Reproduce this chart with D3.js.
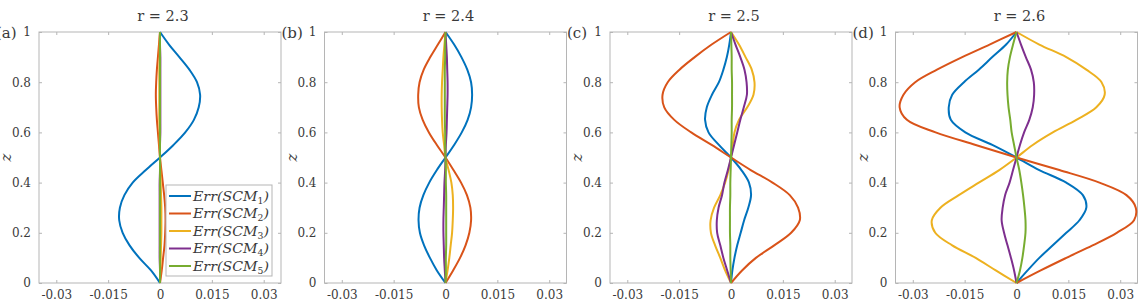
<!DOCTYPE html>
<html>
<head>
<meta charset="utf-8">
<script src="https://cdn.jsdelivr.net/npm/d3@7"></script>
<style>
  body { margin: 0; background: #fff; }
  text { font-family: "DejaVu Serif", "Liberation Serif", serif; }
</style>
</head>
<body>
<svg id="chart" width="1143" height="305"></svg>
<script>
// z positions (vertical axis) shared by every curve
const zValues = [0, 0.05, 0.1, 0.15, 0.2, 0.25, 0.3, 0.35, 0.4, 0.45, 0.5,
  0.55, 0.6, 0.65, 0.7, 0.75, 0.8, 0.85, 0.9, 0.95, 1];

const panelTitles = ["r = 2.3", "r = 2.4", "r = 2.5", "r = 2.6"];
const panelLabels = ["(a)", "(b)", "(c)", "(d)"];
const seriesNames = ["SCM1", "SCM2", "SCM3", "SCM4", "SCM5"];
const seriesColors = ["#0072BD", "#D95319", "#EDB120", "#7E2F8E", "#77AC30"];

const xTicks = [-0.03, -0.015, 0, 0.015, 0.03];
const xTickLabels = ["-0.03", "-0.015", "0", "0.015", "0.03"];
const yTicks = [0, 0.2, 0.4, 0.6, 0.8, 1];
const yTickLabels = ["0", "0.2", "0.4", "0.6", "0.8", "1"];

// r = 2.3
const r23_scm1 = [0, -0.0026, -0.006, -0.0088, -0.0108, -0.0118, -0.0116, -0.0103, -0.0079, -0.0041, 0,
  0.0039, 0.0073, 0.0098, 0.0112, 0.0116, 0.0107, 0.0085, 0.0056, 0.0026, 0];
const r23_scm2 = [0, 0.0005, 0.0009, 0.0013, 0.0015, 0.0016, 0.0015, 0.0012, 0.0008, 0.0004, 0,
  -0.0003, -0.0006, -0.0009, -0.0011, -0.0012, -0.0011, -0.0009, -0.0006, -0.0003, 0];
const r23_scm3 = [0, 0.0001, 0.0002, 0.0003, 0.0004, 0.0004, 0.0004, 0.0003, 0.0002, 0.0001, 0,
  -0.0001, -0.0001, -0.0002, -0.0002, -0.0002, -0.0002, -0.0002, -0.0001, -0.0001, 0];
const r23_scm4 = [0, 0, -0.0001, -0.0001, -0.0001, -0.0001, -0.0001, -0.0001, -0.0001, 0, 0,
  0, 0.0001, 0.0001, 0.0001, 0.0001, 0.0001, 0.0001, 0.0001, 0, 0];
const r23_scm5 = [0, 0, 0, 0, 0, 0, 0, 0, 0, 0, 0, 0, 0, 0, 0, 0, 0, 0, 0, 0, 0];

// r = 2.4
const r24_scm1 = [0, -0.0025, -0.0045, -0.0062, -0.0074, -0.0078, -0.0075, -0.0064, -0.0047, -0.0025, 0,
  0.0025, 0.0047, 0.0064, 0.0074, 0.0077, 0.0074, 0.0063, 0.0046, 0.0025, 0];
const r24_scm2 = [0, 0.0022, 0.0042, 0.0058, 0.0069, 0.0074, 0.0072, 0.0062, 0.0045, 0.0023, 0,
  -0.0025, -0.0048, -0.0066, -0.0077, -0.0079, -0.0075, -0.0063, -0.0044, -0.0022, 0];
const r24_scm3 = [0, 0.0006, 0.0011, 0.0015, 0.0019, 0.0021, 0.0022, 0.0021, 0.0017, 0.0009, 0,
  -0.0004, -0.0008, -0.001, -0.0011, -0.0011, -0.001, -0.0008, -0.0006, -0.0003, 0];
const r24_scm4 = [0, -0.0002, -0.0004, -0.0005, -0.0006, -0.0006, -0.0005, -0.0004, -0.0003, -0.0001, 0,
  0.0001, 0.0003, 0.0004, 0.0005, 0.0006, 0.0006, 0.0005, 0.0004, 0.0002, 0];
const r24_scm5 = [0, 0.0001, 0.0001, 0.0002, 0.0002, 0.0002, 0.0002, 0.0002, 0.0001, 0.0001, 0,
  -0.0001, -0.0001, -0.0002, -0.0002, -0.0002, -0.0002, -0.0002, -0.0001, -0.0001, 0];

// r = 2.5
const r25_scm1 = [0, 0.0004, 0.001, 0.0018, 0.0028, 0.0038, 0.005, 0.0058, 0.0052, 0.003, 0,
  -0.0035, -0.0065, -0.0075, -0.007, -0.0055, -0.0035, -0.0022, -0.0012, -0.0005, 0];
const r25_scm2 = [0, 0.0032, 0.0072, 0.0125, 0.0174, 0.0199, 0.0194, 0.017, 0.012, 0.0057, 0,
  -0.0056, -0.0115, -0.0164, -0.0193, -0.0198, -0.0183, -0.0149, -0.0105, -0.0056, 0];
const r25_scm3 = [0, -0.0017, -0.0031, -0.0046, -0.0058, -0.0059, -0.0049, -0.0031, -0.0017, -0.0007, 0,
  0.0005, 0.001, 0.0023, 0.0047, 0.0065, 0.0068, 0.006, 0.0042, 0.0023, 0];
const r25_scm4 = [0, -0.0011, -0.0022, -0.0031, -0.004, -0.0041, -0.0036, -0.0026, -0.0019, -0.0009, 0,
  0.0009, 0.0018, 0.0027, 0.0037, 0.0046, 0.0045, 0.0039, 0.0027, 0.0013, 0];
const r25_scm5 = [0, -0.0001, -0.0002, -0.0002, -0.0003, -0.0003, -0.0003, -0.0002, -0.0002, -0.0001, 0,
  0.0001, 0.0002, 0.0002, 0.0003, 0.0003, 0.0003, 0.0002, 0.0002, 0.0001, 0];

// r = 2.6
const r26_scm1 = [0, 0.0032, 0.0066, 0.0105, 0.0144, 0.0182, 0.0202, 0.0192, 0.0144, 0.0066, 0,
  -0.007, -0.0148, -0.019, -0.0196, -0.0186, -0.0152, -0.0109, -0.007, -0.003, 0];
const r26_scm2 = [0, 0.007, 0.0144, 0.022, 0.029, 0.034, 0.0345, 0.0318, 0.024, 0.0124, 0,
  -0.0118, -0.0234, -0.0317, -0.0338, -0.0327, -0.0293, -0.023, -0.0157, -0.0078, 0];
const r26_scm3 = [0, -0.006, -0.0118, -0.0186, -0.0235, -0.0245, -0.022, -0.0167, -0.0109, -0.005, 0,
  0.0047, 0.0105, 0.0173, 0.0231, 0.0255, 0.0246, 0.0202, 0.0144, 0.0066, 0];
const r26_scm4 = [0, -0.0007, -0.0016, -0.0026, -0.0036, -0.0043, -0.004, -0.0033, -0.002, -0.001, 0,
  0.001, 0.0022, 0.0037, 0.0047, 0.0051, 0.005, 0.0042, 0.0027, 0.0013, 0];
const r26_scm5 = [0, 0.001, 0.0017, 0.0022, 0.0026, 0.0026, 0.0023, 0.0019, 0.0014, 0.0008, 0,
  -0.0007, -0.0014, -0.0018, -0.0023, -0.0026, -0.0027, -0.0025, -0.0019, -0.001, 0];

const panelSeries = [
  [r23_scm1, r23_scm2, r23_scm3, r23_scm4, r23_scm5],
  [r24_scm1, r24_scm2, r24_scm3, r24_scm4, r24_scm5],
  [r25_scm1, r25_scm2, r25_scm3, r25_scm4, r25_scm5],
  [r26_scm1, r26_scm2, r26_scm3, r26_scm4, r26_scm5]
];

const svg = d3.select("#chart");

// panel geometry
const panelLeft = [39, 324.5, 610, 895.5];
const panelWidth = 242;
const plotTop = 32;
const plotBottom = 283;

const y = d3.scaleLinear().domain([0, 1]).range([plotBottom, plotTop]);

panelSeries.forEach((series, p) => {
  const left = panelLeft[p];
  const x = d3.scaleLinear().domain([-0.035, 0.035]).range([left, left + panelWidth]);

  const g = svg.append("g");

  // box
  g.append("rect")
    .attr("x", left)
    .attr("y", plotTop)
    .attr("width", panelWidth)
    .attr("height", plotBottom - plotTop)
    .attr("fill", "none")
    .attr("stroke", "#b5b5b5")
    .attr("stroke-width", 1);

  // axes with inward ticks
  const axB = g.append("g")
    .attr("transform", `translate(0,${plotBottom})`)
    .call(d3.axisBottom(x).tickValues(xTicks).tickSize(-3).tickPadding(7)
      .tickFormat((d, i) => xTickLabels[i]));
  const axT = g.append("g")
    .attr("transform", `translate(0,${plotTop})`)
    .call(d3.axisTop(x).tickValues(xTicks).tickSize(-3).tickFormat(""));
  const axL = g.append("g")
    .attr("transform", `translate(${left},0)`)
    .call(d3.axisLeft(y).tickValues(yTicks).tickSize(-3).tickPadding(8)
      .tickFormat((d, i) => yTickLabels[i]));
  const axR = g.append("g")
    .attr("transform", `translate(${left + panelWidth},0)`)
    .call(d3.axisRight(y).tickValues(yTicks).tickSize(-3).tickFormat(""));

  [axB, axT, axL, axR].forEach((a) => {
    a.select(".domain").remove();
    a.selectAll("line").attr("stroke", "#b5b5b5");
    a.selectAll("text")
      .attr("fill", "#3a3a3a")
      .style("font-size", "12px")
      .style("font-family", "'DejaVu Serif', serif");
  });

  // curves
  const line = d3.line()
    .x((d) => x(d[0]))
    .y((d) => y(d[1]))
    .curve(d3.curveCatmullRom.alpha(0.5));

  series.forEach((vals, s) => {
    g.append("path")
      .datum(vals.map((v, i) => [v, zValues[i]]))
      .attr("d", line)
      .attr("fill", "none")
      .attr("stroke", seriesColors[s])
      .attr("stroke-width", 2);
  });

  // title
  g.append("text")
    .attr("x", left + panelWidth / 2 + 3)
    .attr("y", 21)
    .attr("text-anchor", "middle")
    .attr("fill", "#3a3a3a")
    .style("font-size", "14.5px")
    .text(panelTitles[p]);

  // panel label
  g.append("text")
    .attr("x", left - 43)
    .attr("y", 38)
    .attr("fill", "#3a3a3a")
    .style("font-size", "15px")
    .text(panelLabels[p]);

  // y label
  g.append("text")
    .attr("transform", `translate(${left - 28},${(plotTop + plotBottom) / 2}) rotate(-90)`)
    .attr("text-anchor", "middle")
    .attr("fill", "#3a3a3a")
    .style("font-size", "15px")
    .style("font-style", "italic")
    .text("z");

  // legend in first panel
  if (p === 0) {
    const lx = 166, ly = 185, lw = 106, lh = 91;
    const lg = g.append("g");
    lg.append("rect")
      .attr("x", lx).attr("y", ly).attr("width", lw).attr("height", lh)
      .attr("fill", "#fff").attr("stroke", "#b5b5b5");
    seriesNames.forEach((name, s) => {
      const yy = ly + 11 + s * 17.5;
      lg.append("line")
        .attr("x1", lx + 3).attr("x2", lx + 25)
        .attr("y1", yy).attr("y2", yy)
        .attr("stroke", seriesColors[s]).attr("stroke-width", 2);
      const t = lg.append("text")
        .attr("x", lx + 27).attr("y", yy + 4.5)
        .attr("fill", "#3a3a3a")
        .attr("textLength", 76)
        .attr("lengthAdjust", "spacingAndGlyphs")
        .style("font-size", "13px")
        .style("font-style", "italic");
      t.append("tspan").text("Err(" + name.slice(0, 3));
      t.append("tspan").text(name.slice(3))
        .style("font-size", "8.5px").style("font-style", "normal").attr("dy", 3);
      t.append("tspan").text(")").attr("dy", -3);
    });
  }
});
</script>
</body>
</html>
